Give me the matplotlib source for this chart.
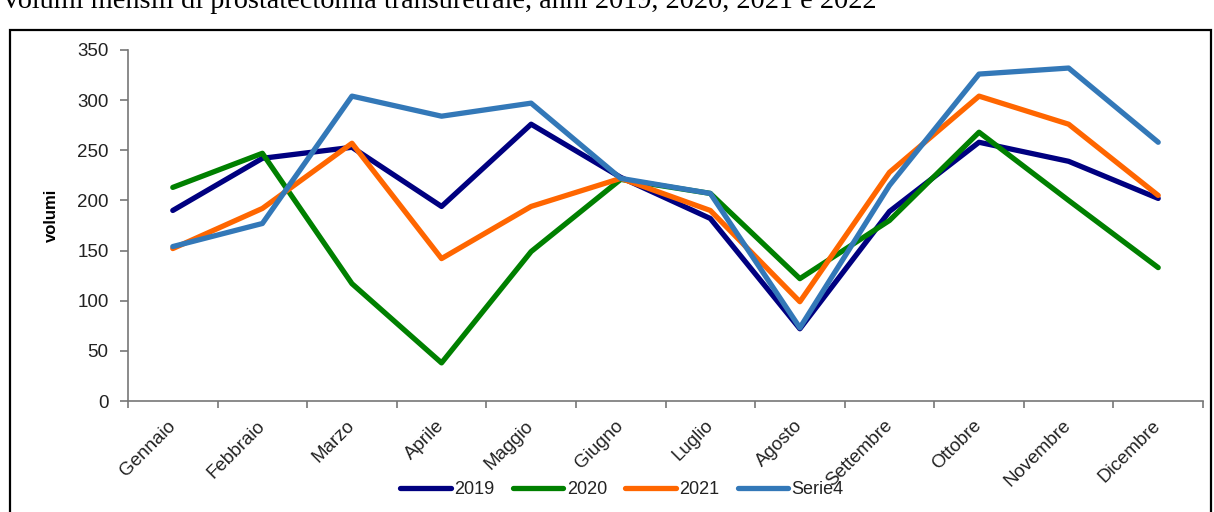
import matplotlib
matplotlib.use("Agg")
import matplotlib.pyplot as plt
from matplotlib.patches import Rectangle
from matplotlib.lines import Line2D
import numpy as np

months = ["Gennaio", "Febbraio", "Marzo", "Aprile", "Maggio", "Giugno",
          "Luglio", "Agosto", "Settembre", "Ottobre", "Novembre", "Dicembre"]
series_names = ["2019", "2020", "2021", "Serie4"]
v2019 = [190, 242, 253, 194, 276, 223, 182, 72, 189, 258, 239, 202]
v2020 = [213, 247, 117, 38, 149, 221, 207, 122, 180, 268, 200, 133]
v2021 = [152, 192, 257, 142, 194, 222, 190, 99, 228, 304, 276, 205]
vserie4 = [154, 177, 304, 284, 297, 222, 207, 73, 215, 326, 332, 258]
colors = ["#000080", "#008000", "#FF6600", "#3378B8"]
title = "Volumi mensili di prostatectomia transuretrale, anni 2019, 2020, 2021 e 2022"
yticks = [0, 50, 100, 150, 200, 250, 300, 350]

W, H = 1214, 512
fig = plt.figure(figsize=(W / 100, H / 100), dpi=100)
plt.rcParams['font.family'] = ['Liberation Sans', 'DejaVu Sans']

# outer frame
fig.patches.append(Rectangle((10 / W, -0.2), (1211 - 10) / W, 0.2 + 1 - 30 / H,
                             transform=fig.transFigure, fill=False,
                             edgecolor="black", linewidth=1.6))
fig.text(1 / W, 1 - 8 / H, title, family="Liberation Serif", fontsize=20.3,
         ha="left", va="baseline", color="black")

ax = fig.add_axes([128 / W, 1 - 401 / H, (1203 - 128) / W, (401 - 50) / H])
x = np.arange(len(months))
for vals, name, c in zip([v2019, v2020, v2021, vserie4], series_names, colors):
    ax.plot(x, vals, color=c, lw=3.8, solid_capstyle="round",
            solid_joinstyle="round", label=name)

ax.set_xlim(-0.5, len(months) - 0.5)
ax.set_ylim(0, 350)
ax.set_yticks(yticks)
ax.set_xticks(x)
ax.set_xticklabels(months, rotation=45, ha="right", va="center",
                   rotation_mode="anchor", fontsize=13.5, color="#222222")
ax.set_xticks(np.arange(-0.5, len(months)), minor=True)
ax.tick_params(axis="x", which="major", length=0, pad=16)
ax.tick_params(axis="x", which="minor", length=5, width=1.2, color="#777777",
               direction="out")
ax.tick_params(axis="y", length=6, width=1.2, color="#777777", direction="out",
               labelsize=13.5, labelcolor="#222222", pad=8)
for s in ["top", "right"]:
    ax.spines[s].set_visible(False)
for s in ["left", "bottom"]:
    ax.spines[s].set_color("#777777")
    ax.spines[s].set_linewidth(1.2)
ax.set_ylabel("volumi", fontsize=12, fontweight="bold")
ax.yaxis.set_label_coords(-0.064, 0.53)

handles = [Line2D([0], [0], color=c, lw=3.8, solid_capstyle="round")
           for c in colors]
fig.legend(handles, series_names, loc="center", bbox_to_anchor=(622 / W, 1 - 490 / H),
           ncol=4, frameon=False, fontsize=13, handlelength=2.8,
           handletextpad=0.2, columnspacing=1.0, labelcolor="#222222")

fig.savefig("out.png", dpi=100)
